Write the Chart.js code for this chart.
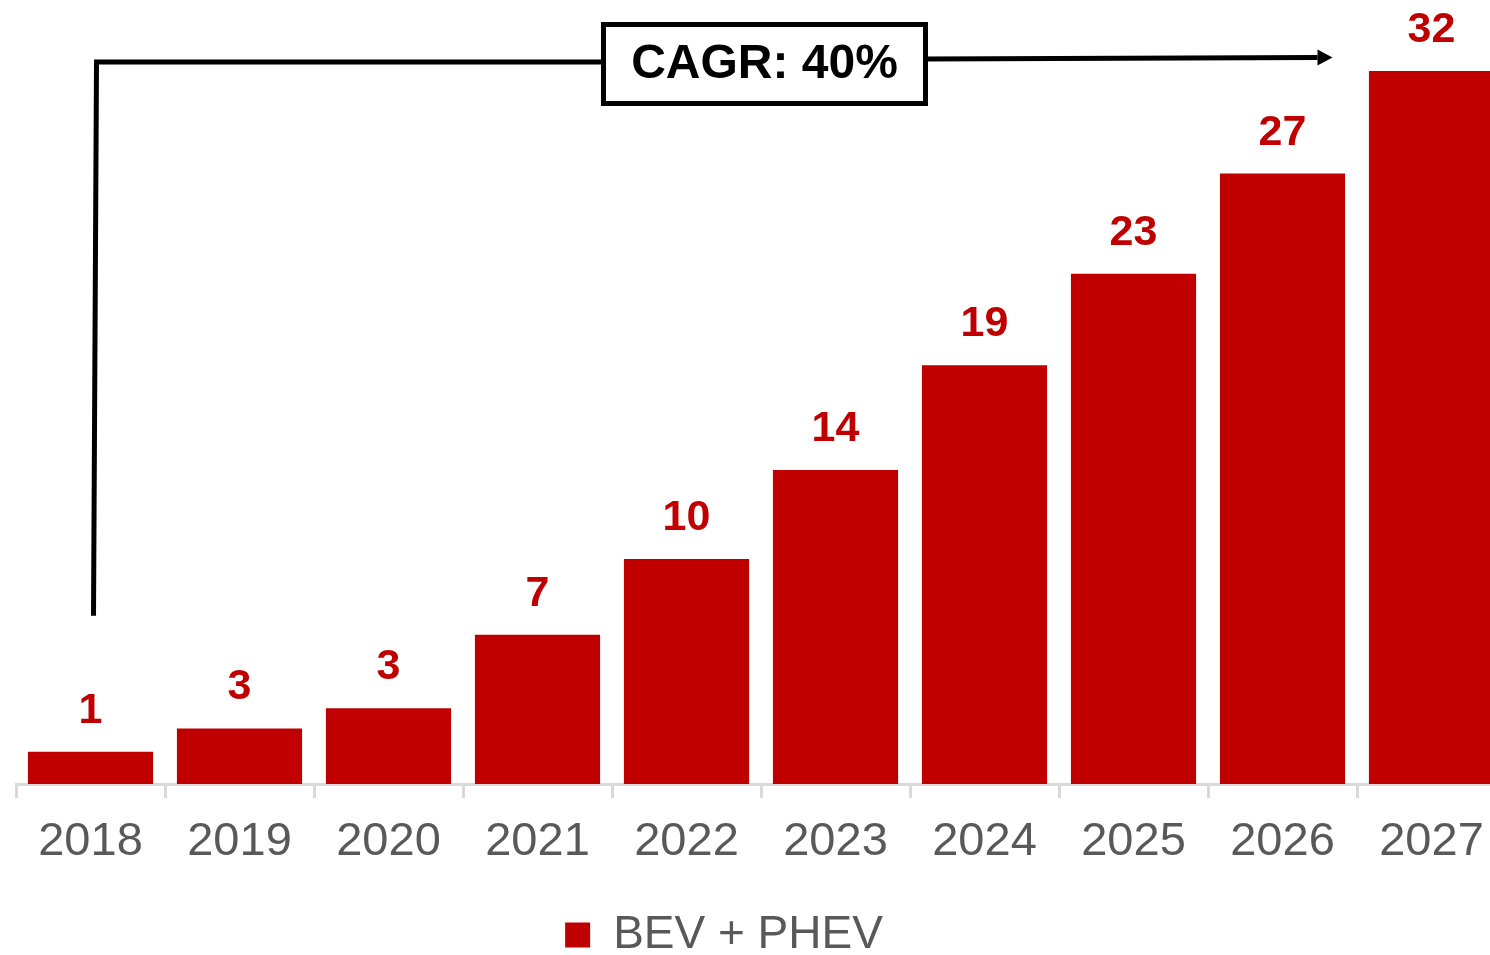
<!DOCTYPE html>
<html>
<head>
<meta charset="utf-8">
<script src="https://cdn.jsdelivr.net/npm/chart.js@4/dist/chart.umd.min.js"></script>
<style>
  html, body { margin: 0; padding: 0; background: #fff; overflow: hidden; }
  #wrap { position: relative; width: 1506px; height: 968px; }
</style>
</head>
<body>
<div id="wrap"><canvas id="chart-ev" width="1506" height="968"></canvas></div>
<script>
var years = ["2018", "2019", "2020", "2021", "2022", "2023", "2024", "2025", "2026", "2027"];
var evSales = [1.45, 2.5, 3.4, 6.7, 10.1, 14.1, 18.8, 22.9, 27.4, 32];
var valueLabels = ["1", "3", "3", "7", "10", "14", "19", "23", "27", "32"];
var seriesName = "BEV + PHEV";
var cagrText = "CAGR: 40%";

(function () {
  var red = "#c00000";
  var grey = "#595959";
  var fontFamily = "'Liberation Sans', Arial, sans-serif";

  // value labels above the bars
  var barLabels = {
    id: "barLabels",
    afterDatasetsDraw: function (chart) {
      var ctx = chart.ctx;
      var meta = chart.getDatasetMeta(0);
      ctx.save();
      ctx.fillStyle = red;
      ctx.font = "bold 43px " + fontFamily;
      ctx.textAlign = "center";
      ctx.textBaseline = "alphabetic";
      meta.data.forEach(function (bar, i) {
        ctx.fillText(valueLabels[i], bar.x, bar.y - 29);
      });
      ctx.restore();
    },
  };

  // CAGR bracket + arrow + box
  var cagrNote = {
    id: "cagrNote",
    afterDraw: function (chart) {
      var ctx = chart.ctx;
      var xs = chart.scales.x;
      var ys = chart.scales.y;
      var startX = xs.getPixelForValue(0) + 3;
      var tipX = xs.getPixelForValue(8) + 50;
      var lineY = ys.getPixelForValue(32.4);
      var bottomY = ys.getPixelForValue(7.55);
      var boxCx = xs.getPixelForValue(4) + 78;
      var boxW = 322, boxH = 79;
      var boxL = boxCx - boxW / 2;
      var boxT = 24.5;

      ctx.save();
      ctx.strokeStyle = "#000";
      ctx.fillStyle = "#000";
      ctx.lineWidth = 5;
      ctx.lineJoin = "miter";

      ctx.beginPath();
      ctx.moveTo(startX, bottomY);
      ctx.lineTo(startX + 3, lineY);
      ctx.lineTo(boxL, lineY);
      ctx.stroke();

      ctx.beginPath();
      ctx.moveTo(boxL + boxW, lineY - 3);
      ctx.lineTo(tipX - 15, lineY - 4.5);
      ctx.stroke();

      ctx.beginPath();
      ctx.moveTo(tipX - 15, lineY - 12.5);
      ctx.lineTo(tipX, lineY - 4.5);
      ctx.lineTo(tipX - 15, lineY + 3.5);
      ctx.closePath();
      ctx.fill();

      ctx.fillStyle = "#fff";
      ctx.fillRect(boxL, boxT, boxW, boxH);
      ctx.strokeRect(boxL, boxT, boxW, boxH);

      ctx.fillStyle = "#000";
      ctx.font = "bold 48px " + fontFamily;
      ctx.textAlign = "center";
      ctx.textBaseline = "middle";
      ctx.fillText(cagrText, boxCx, boxT + boxH / 2 + 1);
      ctx.restore();
    },
  };

  // picture is cropped on the right, legend sits left of the canvas centre
  var legendShift = {
    id: "legendShift",
    afterLayout: function (chart) {
      if (chart.legend) {
        chart.legend.left -= 37;
        chart.legend.right -= 37;
      }
    },
  };

  function init() {
    var el = document.getElementById("chart-ev");
    if (!el || typeof Chart === "undefined") {
      return;
    }
    new Chart(el, {
      type: "bar",
      data: {
        labels: years,
        datasets: [
          {
            label: seriesName,
            data: evSales,
            backgroundColor: red,
            borderWidth: 0,
            categoryPercentage: 1,
            barPercentage: 0.84,
          },
        ],
      },
      options: {
        responsive: false,
        maintainAspectRatio: false,
        animation: false,
        layout: { padding: { top: 71, left: 16, right: 0, bottom: 0 } },
        plugins: {
          legend: {
            position: "bottom",
            labels: {
              boxWidth: 25,
              boxHeight: 25,
              padding: 26.5,
              color: grey,
              font: { family: fontFamily, size: 46 },
            },
          },
          tooltip: { enabled: false },
        },
        scales: {
          x: {
            grid: {
              display: true,
              drawOnChartArea: false,
              drawTicks: true,
              tickLength: 14,
              color: "#d9d9d9",
              lineWidth: 3,
              offset: true,
            },
            border: { display: true, color: "#d9d9d9", width: 3 },
            ticks: {
              color: grey,
              padding: 15.5,
              maxRotation: 0,
              autoSkip: false,
              font: { family: fontFamily, size: 47 },
            },
          },
          y: {
            display: false,
            min: 0,
            max: 32,
          },
        },
      },
      plugins: [barLabels, cagrNote, legendShift],
    });
  }

  if (document.readyState === "loading") {
    document.addEventListener("DOMContentLoaded", init);
  } else {
    init();
  }
})();
</script>
</body>
</html>
